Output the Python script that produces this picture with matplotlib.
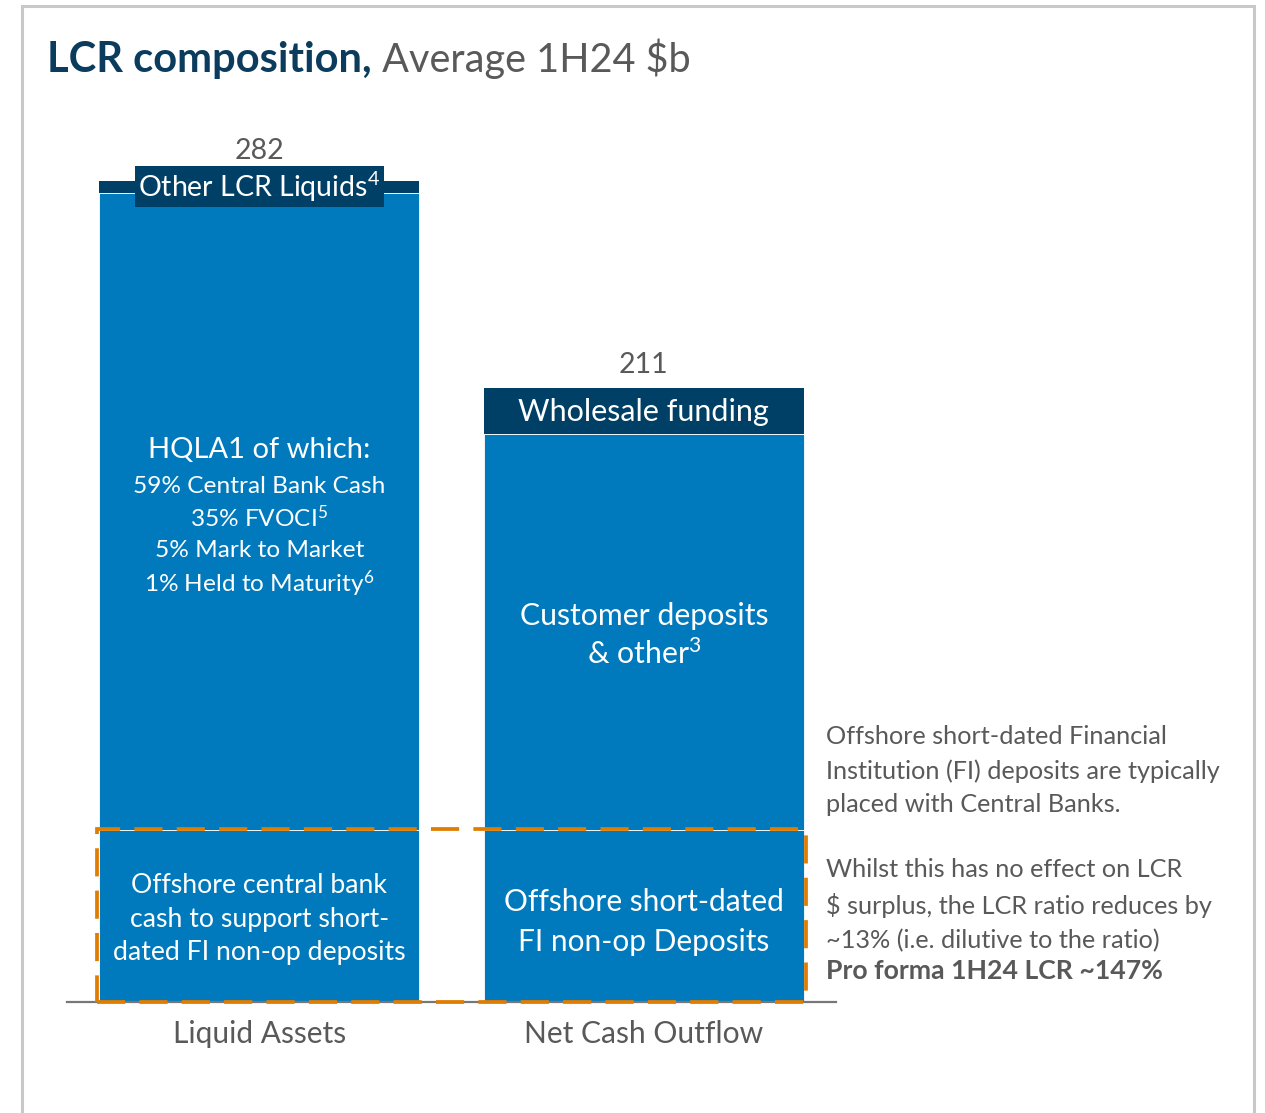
import numpy as np
import matplotlib.pyplot as plt
from matplotlib.patches import Rectangle

plt.rcParams['font.family'] = ['Lato', 'DejaVu Sans']
plt.rcParams['mathtext.fontset'] = 'custom'
plt.rcParams['mathtext.rm'] = 'Lato'
plt.rcParams['mathtext.it'] = 'Lato:italic'
plt.rcParams['mathtext.bf'] = 'Lato:bold'

# data ($b)
categories = ['Liquid Assets', 'Net Cash Outflow']
offshore = [59, 59]
middle = [219, 136]
top = [4, 16]
totals = [282, 211]

offshore_labels = ['Offshore central bank\ncash to support short-\ndated FI non-op deposits',
                   'Offshore short-dated\nFI non-op Deposits']
top_labels = ['Other LCR Liquids$^{4}$', 'Wholesale funding']
hqla_head = 'HQLA1 of which:'
hqla_lines = ['59% Central Bank Cash', '35% FVOCI$^{5}$', '5% Mark to Market',
              '1% Held to Maturity$^{6}$']
cust_lines = ['Customer deposits', '& other$^{3}$']
note1 = 'Offshore short-dated Financial\nInstitution (FI) deposits are typically\nplaced with Central Banks.'
note2 = 'Whilst this has no effect on LCR\n$ surplus, the LCR ratio reduces by\n~13% (i.e. dilutive to the ratio)'
note3 = 'Pro forma 1H24 LCR ~147%'

blue = '#007ABD'
navy = '#003F66'
title_navy = '#0B3C5D'
orange = '#E07C00'
grey = '#595959'

W, H = 1265, 1113
fig = plt.figure(figsize=(W / 100, H / 100), dpi=100)

def fx(x):
    return x / W

def fy(y):
    return 1 - y / H

# card frame
fig.patches.append(Rectangle((fx(22), fy(1130)), fx(1254 - 22), (1130 - 6) / H,
                             transform=fig.transFigure, fill=False,
                             edgecolor='#C8C8C8', linewidth=2.2))

# axes: baseline at y=1002 px, 300 units tall
ymax = 300
ppu = 821 / 282
ax = fig.add_axes([fx(67), fy(1002), fx(836 - 67), ymax * ppu / H])
ax.set_xlim(-0.5, 1.5)
ax.set_ylim(0, ymax)

x = np.arange(len(categories))
bw = 0.832
offshore = np.array(offshore)
middle = np.array(middle)
top = np.array(top)

ax.bar(x, offshore, bw, color=blue, edgecolor='white', linewidth=0.6)
ax.bar(x, middle, bw, bottom=offshore, color=blue, edgecolor='white', linewidth=0.6)
ax.bar(x, top, bw, bottom=offshore + middle, color=navy, edgecolor='none')


def stack_lines(xc, yc, lines, step_px, **kw):
    # one text per line so superscripts don't upset the spacing
    step = step_px / ppu
    n = len(lines)
    for k, s in enumerate(lines):
        ax.text(xc, yc + (n - 1) / 2 * step - k * step, s, ha='center', va='center_baseline',
                color='white', **kw)


# total labels (first one sits above the label box)
total_pad = [6, 3.5]
for i in range(len(categories)):
    ax.text(x[i], totals[i] + total_pad[i], str(totals[i]), ha='center', va='bottom',
            fontsize=20.5, color=grey)

ax.text(x[0], offshore[0] / 2 - 1, offshore_labels[0], ha='center', va='center',
        color='white', fontsize=19.2, linespacing=1.42)
ax.text(x[1], offshore[1] / 2 - 2, offshore_labels[1], ha='center', va='center',
        color='white', fontsize=21.5, linespacing=1.52)

# top segment labels
ax.text(x[0], offshore[0] + middle[0] + top[0] / 2, top_labels[0],
        ha='center', va='center', color='white', fontsize=20.5,
        bbox=dict(boxstyle='square,pad=0.12', fc=navy, ec='none'))
ax.text(x[1], offshore[1] + middle[1] + top[1] / 2 - 0.5, top_labels[1],
        ha='center', va='center', color='white', fontsize=22)

# middle segment labels
mid0 = offshore[0] + middle[0] / 2
ax.text(x[0], mid0 + 21, hqla_head, ha='center', va='center', color='white', fontsize=21)
stack_lines(x[0], mid0 - 7.1, hqla_lines, 32, fontsize=17.6)
stack_lines(x[1], offshore[1] + middle[1] / 2, cust_lines, 38, fontsize=21.8)

# dashed box round the offshore segments
ax.add_patch(Rectangle((x[0] - bw / 2 - 0.005, 0), x[1] - x[0] + bw + 0.01, offshore[0] + 0.5,
                       fill=False, edgecolor=orange, linewidth=2.7,
                       linestyle=(0, (7.5, 3.8)), clip_on=False, zorder=5))

for s in ['top', 'right', 'left']:
    ax.spines[s].set_visible(False)
ax.spines['bottom'].set_color('#777777')
ax.spines['bottom'].set_linewidth(1.6)
ax.set_yticks([])
ax.set_xticks(x)
ax.set_xticklabels(categories, fontsize=21.6, color=grey)
ax.tick_params(axis='x', length=0, pad=13)

# title
t1 = fig.text(fx(47), fy(72), 'LCR composition,', fontsize=30, fontweight='bold',
              color=title_navy, va='baseline')
ax.annotate(' Average 1H24 $b', xy=(1, 0), xycoords=t1, fontsize=28.5, color=grey,
            va='bottom', annotation_clip=False)

# side notes
fig.text(fx(826), fy(725), note1, fontsize=18.2, color=grey, va='top', linespacing=1.56)
fig.text(fx(826), fy(858), note2, fontsize=18.2, color=grey, va='top', linespacing=1.56)
fig.text(fx(826), fy(979), note3, fontsize=19.2, color=grey, va='baseline', fontweight='bold')

fig.savefig('out.png', dpi=100)
